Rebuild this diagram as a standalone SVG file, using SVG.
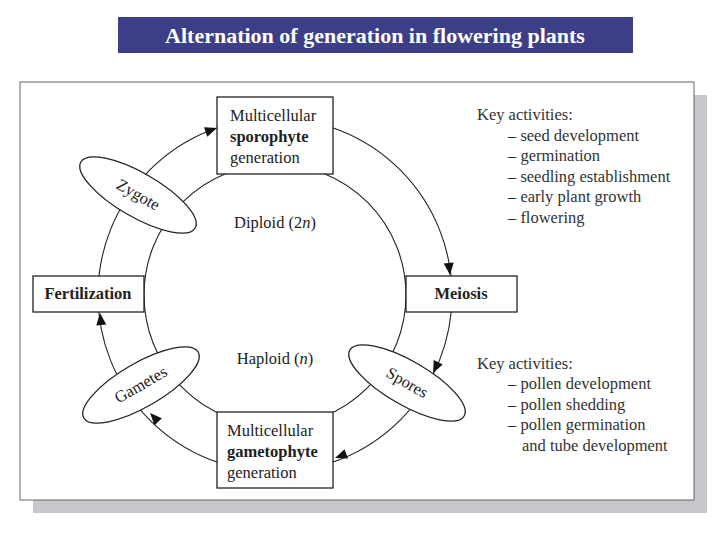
<svg xmlns="http://www.w3.org/2000/svg" width="720" height="540" viewBox="0 0 720 540">
<style>
text{font-family:"Liberation Serif","Times New Roman",serif;fill:#222}
.n{font-size:16.5px}
.b{font-size:16.5px;font-weight:bold}
.box{fill:#fff;stroke:#222;stroke-width:1.3}
.ln{fill:none;stroke:#222;stroke-width:1.1}
.k{font-size:16.5px;fill:#333}
</style>
<defs><path id="ah" d="M0,0 L-12,-5 L-12,5 Z" fill="#111"/></defs>
<rect width="720" height="540" fill="#fff"/>
<g id="title">
<rect x="118" y="17" width="515" height="36" fill="#3c3f88"/>
<text x="375" y="43" text-anchor="middle" style="font-size:22px;font-weight:bold;fill:#fff">Alternation of generation in flowering plants</text>
</g>
<rect x="33" y="95" width="674" height="418" fill="#c8c8cc"/>
<rect x="20" y="82" width="674" height="418" fill="#fff" stroke="#666" stroke-width="1"/>
<g id="connectors">
<circle class="ln" cx="275" cy="295" r="177"/>
<circle class="ln" cx="275" cy="295" r="131"/>
<use href="#ah" transform="translate(217,128) rotate(-19)"/>
<use href="#ah" transform="translate(450,275) rotate(84)"/>
<use href="#ah" transform="translate(433,373) rotate(116)"/>
<use href="#ah" transform="translate(335,458) rotate(160)"/>
<use href="#ah" transform="translate(150,413) rotate(227)"/>
<use href="#ah" transform="translate(100,313) rotate(264)"/>
</g>
<g id="sporophyte">
<rect class="box" x="217" y="97" width="116" height="77"/>
<text class="n" x="230" y="121">Multicellular</text>
<text class="b" x="230" y="142">sporophyte</text>
<text class="n" x="230" y="163">generation</text>
</g>
<g id="gametophyte">
<rect class="box" x="217" y="412" width="116" height="76"/>
<text class="n" x="227" y="436">Multicellular</text>
<text class="b" x="227" y="457">gametophyte</text>
<text class="n" x="227" y="478">generation</text>
</g>
<g id="fertilization">
<rect class="box" x="33" y="276" width="111" height="36"/>
<text class="b" x="88" y="299" text-anchor="middle">Fertilization</text>
</g>
<g id="meiosis">
<rect class="box" x="406" y="276" width="111" height="36"/>
<text class="b" x="461" y="299" text-anchor="middle">Meiosis</text>
</g>
<g id="zygote">
<ellipse class="box" cx="138" cy="195" rx="66" ry="22" transform="rotate(30 138 195)"/>
<text class="n" x="138" y="200" text-anchor="middle" transform="rotate(30 138 195)">Zygote</text>
</g>
<g id="gametes">
<ellipse class="box" cx="141" cy="385" rx="66" ry="22" transform="rotate(-30 141 385)"/>
<text class="n" x="141" y="390" text-anchor="middle" transform="rotate(-30 141 385)">Gametes</text>
</g>
<g id="spores">
<ellipse class="box" cx="407" cy="383" rx="66" ry="22" transform="rotate(30 407 383)"/>
<text class="n" x="407" y="388" text-anchor="middle" transform="rotate(30 407 383)">Spores</text>
</g>
<text class="n" x="275" y="228" text-anchor="middle">Diploid (2<tspan font-style="italic">n</tspan>)</text>
<text class="n" x="275" y="364" text-anchor="middle">Haploid (<tspan font-style="italic">n</tspan>)</text>
<g id="key1">
<text class="k" x="477" y="120">Key activities:</text>
<text class="k" x="508" y="141">– seed development</text>
<text class="k" x="508" y="161">– germination</text>
<text class="k" x="508" y="182">– seedling establishment</text>
<text class="k" x="508" y="202">– early plant growth</text>
<text class="k" x="508" y="223">– flowering</text>
</g>
<g id="key2">
<text class="k" x="477" y="369">Key activities:</text>
<text class="k" x="508" y="389">– pollen development</text>
<text class="k" x="508" y="410">– pollen shedding</text>
<text class="k" x="508" y="430">– pollen germination</text>
<text class="k" x="522" y="451">and tube development</text>
</g>
</svg>
